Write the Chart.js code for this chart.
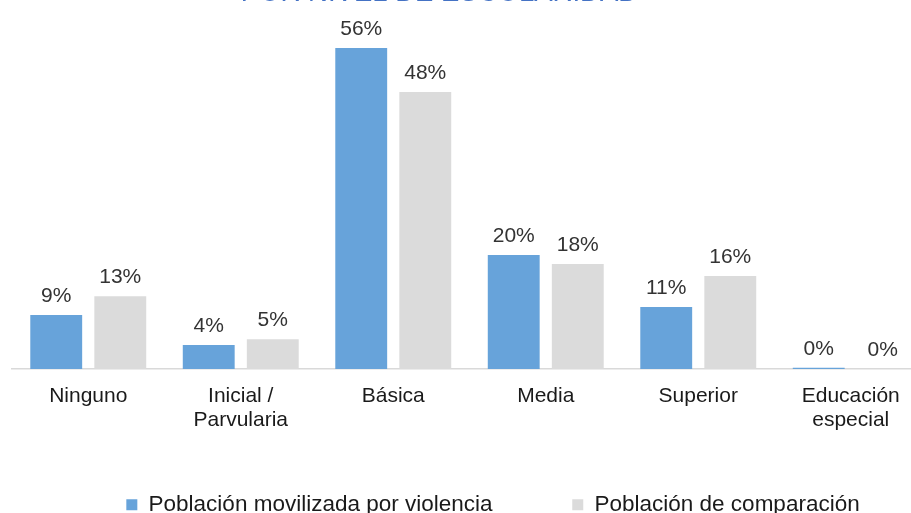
<!DOCTYPE html>
<html>
<head>
<meta charset="utf-8">
<script src="https://cdn.jsdelivr.net/npm/chart.js@4/dist/chart.umd.min.js"></script>
<style>
  html, body { margin: 0; padding: 0; background: #ffffff; overflow: hidden; }
  #frame { position: relative; width: 911px; height: 513px; overflow: hidden; background: #fff; }
  #box { position: absolute; left: 0; top: -20px; width: 974px; height: 546px; }
</style>
</head>
<body>
<div id="frame"><div id="box"><canvas id="c"></canvas></div></div>
<script>
const categories = ['Ninguno', ['Inicial /', 'Parvularia'], 'Básica', 'Media', 'Superior', ['Educación', 'especial']];
const seriesNames = ['Población movilizada por violencia', 'Población de comparación'];
const movilizada = [9.4, 4.2, 56, 19.9, 10.8, 0.2];
const comparacion = [12.7, 5.2, 48.3, 18.3, 16.2, 0];
const titleText = 'POR NIVEL DE ESCOLARIDAD';

const FONT = '"Liberation Sans", Arial, sans-serif';

const valueLabels = {
  id: 'valueLabels',
  afterDatasetsDraw(chart) {
    const ctx = chart.ctx;
    ctx.save();
    ctx.font = '21px ' + FONT;
    ctx.fillStyle = '#333333';
    ctx.textAlign = 'center';
    ctx.textBaseline = 'alphabetic';
    chart.data.datasets.forEach((ds, di) => {
      const meta = chart.getDatasetMeta(di);
      meta.data.forEach((bar, i) => {
        ctx.fillText(Math.round(ds.data[i]) + '%', bar.x, bar.y - 13);
      });
    });
    ctx.restore();
  }
};

new Chart(document.getElementById('c'), {
  type: 'bar',
  data: {
    labels: categories,
    datasets: [
      { label: seriesNames[0], data: movilizada, backgroundColor: '#67A3DA', categoryPercentage: 0.84, barPercentage: 0.81 },
      { label: seriesNames[1], data: comparacion, backgroundColor: '#DBDBDB', categoryPercentage: 0.84, barPercentage: 0.81 }
    ]
  },
  options: {
    responsive: true,
    maintainAspectRatio: false,
    animation: false,
    layout: { padding: { left: 12, right: 0, top: 0, bottom: 0 } },
    plugins: {
      title: {
        display: true,
        text: titleText + '              ',
        color: '#4472C4',
        font: { size: 27.5, family: FONT, weight: 'normal', lineHeight: 1.0 },
        padding: { top: 0, bottom: 17.5 }
      },
      legend: {
        position: 'bottom',
        labels: {
          boxWidth: 11, boxHeight: 11, padding: 61,
          color: '#1a1a1a',
          font: { size: 22.5, family: FONT },
          generateLabels(chart) {
            const items = Chart.defaults.plugins.legend.labels.generateLabels(chart);
            items[0].text = items[0].text + '   ';
            return items;
          }
        }
      },
      tooltip: { enabled: false }
    },
    scales: {
      x: {
        grid: { display: false },
        border: { display: true, color: '#D9D9D9', width: 1.5 },
        ticks: {
          color: '#1a1a1a',
          padding: 7,
          maxRotation: 0,
          font: { size: 21, family: FONT, lineHeight: 1.143 }
        },
        afterFit(s) { s.height = 63.5; }
      },
      y: {
        position: 'right',
        min: 0, max: 60,
        grid: { display: false },
        border: { display: false },
        ticks: { display: false },
        afterFit(s) { s.width = 47; }
      }
    }
  },
  plugins: [valueLabels]
});
</script>
</body>
</html>
